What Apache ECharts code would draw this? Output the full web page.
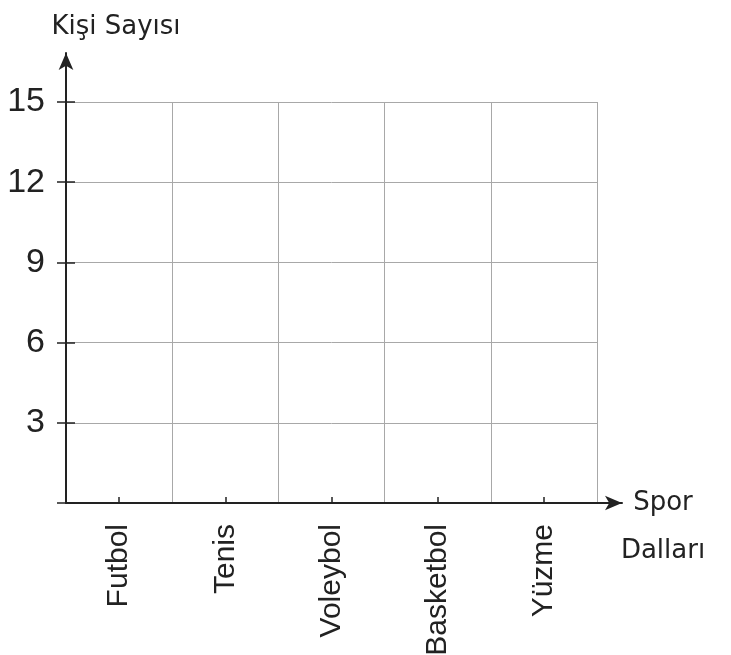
<!DOCTYPE html>
<html>
<head>
<meta charset="utf-8">
<style>
  html, body { margin: 0; padding: 0; background: #fff; }
  #chart { width: 731px; height: 655px; }
</style>
<script src="https://cdn.jsdelivr.net/npm/echarts@6/dist/echarts.min.js"></script>
</head>
<body>
<div id="chart"></div>
<script>
  // spor dalları
  var sports = ['Futbol', 'Tenis', 'Voleybol', 'Basketbol', 'Yüzme']
  // tablo boş, henüz değer yok
  var counts = [null, null, null, null, null]
  var yMin = 0
  var yMax = 15
  var yStep = 3

  var axisColor = '#222'
  var gridColor = '#a8a8a8'
  var labelFont = 'Liberation Sans, Arial, sans-serif'
  var nameFont = 'DejaVu Sans, sans-serif'

  var chart = echarts.init(document.getElementById('chart'))
  chart.setOption({
    animation: false,
    grid: [
      { left: 66, right: 134, top: 102, bottom: 152, outerBoundsMode: 'none' },
      // ok uçlu eksenler için ikinci ızgara
      { left: 66, right: 109, top: 53, bottom: 152, outerBoundsMode: 'none' }
    ],
    xAxis: [{
      gridIndex: 0,
      type: 'category',
      data: sports,
      boundaryGap: true,
      axisLine: { show: false },
      axisTick: {
        show: true,
        inside: true,
        alignWithLabel: true,
        length: 6,
        lineStyle: { color: axisColor, width: 1.5 }
      },
      splitLine: {
        show: true,
        lineStyle: { color: gridColor, width: 1 }
      },
      axisLabel: {
        rotate: 90,
        margin: 21,
        fontFamily: labelFont,
        fontSize: 30,
        color: axisColor
      }
    }, {
      gridIndex: 1,
      type: 'value',
      min: 0,
      max: 1,
      axisLine: {
        show: true,
        symbol: ['none', 'arrow'],
        symbolSize: [11, 17],
        lineStyle: { color: axisColor, width: 2 }
      },
      axisTick: { show: false },
      axisLabel: { show: false },
      splitLine: { show: false },
      // ilk satır boş: "Spor" eksen hizasında kalsın
      name: '\nSpor\nDalları',
      nameLocation: 'end',
      nameGap: 0,
      nameTextStyle: {
        fontFamily: nameFont,
        fontSize: 26,
        color: axisColor,
        align: 'center',
        verticalAlign: 'middle',
        lineHeight: 48,
        padding: [0, 0, 0, 82]
      }
    }],
    yAxis: [{
      gridIndex: 0,
      type: 'value',
      position: 'left',
      min: yMin,
      max: yMax,
      interval: yStep,
      axisLine: { show: false },
      axisTick: {
        show: true,
        length: 9,
        lineStyle: { color: axisColor, width: 1.5 }
      },
      splitLine: {
        show: true,
        lineStyle: { color: gridColor, width: 1 }
      },
      axisLabel: {
        margin: 21,
        fontFamily: labelFont,
        fontSize: 34,
        color: axisColor,
        formatter: function (v) { return v === 0 ? '' : v }
      }
    }, {
      // çentiklerin içe taşan kısmı
      gridIndex: 0,
      type: 'value',
      position: 'left',
      offset: 0,
      min: yMin,
      max: yMax,
      interval: yStep,
      axisLine: { show: false },
      axisTick: {
        show: true,
        inside: true,
        length: 9,
        lineStyle: { color: axisColor, width: 1.5 }
      },
      splitLine: { show: false },
      axisLabel: { show: false }
    }, {
      gridIndex: 1,
      type: 'value',
      min: 0,
      max: 1,
      axisLine: {
        show: true,
        symbol: ['none', 'arrow'],
        symbolSize: [11, 17],
        lineStyle: { color: axisColor, width: 2 }
      },
      axisTick: { show: false },
      axisLabel: { show: false },
      splitLine: { show: false },
      name: 'Kişi Sayısı',
      nameLocation: 'end',
      nameGap: 13,
      nameTextStyle: {
        fontFamily: nameFont,
        fontSize: 26,
        color: axisColor,
        padding: [0, 0, 0, 100]
      }
    }],
    series: [{
      type: 'bar',
      xAxisIndex: 0,
      yAxisIndex: 0,
      data: counts
    }]
  })
</script>
</body>
</html>
